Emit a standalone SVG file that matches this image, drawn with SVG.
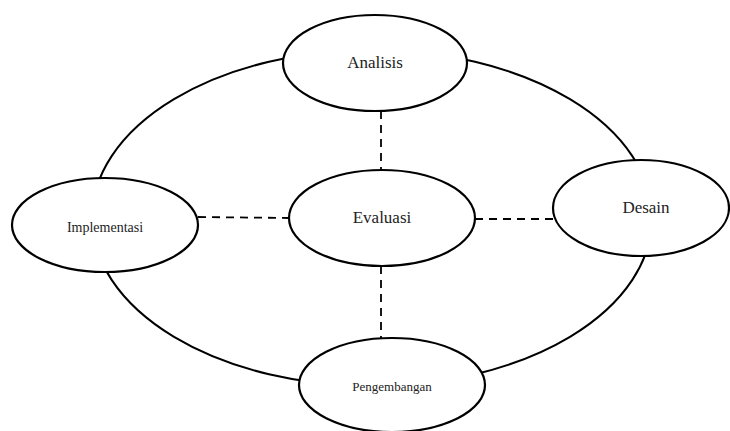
<svg xmlns="http://www.w3.org/2000/svg" width="730" height="431" viewBox="0 0 730 431">
<style>
.n{fill:#fff;stroke:#000;stroke-width:2.2}
.ring{fill:none;stroke:#000;stroke-width:2}
.d{stroke:#000;stroke-width:1.8;stroke-dasharray:8,6;fill:none}
.t{fill:#222;text-anchor:middle}
</style>
<g id="connectors">
<ellipse class="ring" cx="372" cy="218" rx="280" ry="168"/>
<line class="d" x1="381" y1="111" x2="381" y2="170"/>
<line class="d" x1="381" y1="266" x2="381" y2="339"/>
<line class="d" x1="198" y1="217" x2="289" y2="218"/>
<line class="d" x1="475" y1="219" x2="553" y2="219"/>
</g>
<g id="analisis"><ellipse class="n" cx="375" cy="63" rx="92" ry="48"/><text class="t" font-family="'Liberation Serif', 'Times New Roman', serif" x="375" y="68" font-size="17">Analisis</text></g>
<g id="implementasi"><ellipse class="n" cx="105" cy="225" rx="93" ry="47"/><text class="t" font-family="'Liberation Serif', 'Times New Roman', serif" x="105" y="232" font-size="14">Implementasi</text></g>
<g id="evaluasi"><ellipse class="n" cx="382" cy="218" rx="93" ry="48"/><text class="t" font-family="'Liberation Serif', 'Times New Roman', serif" x="382" y="223" font-size="17">Evaluasi</text></g>
<g id="desain"><ellipse class="n" cx="641" cy="208" rx="88" ry="48"/><text class="t" font-family="'Liberation Serif', 'Times New Roman', serif" x="646" y="213" font-size="17">Desain</text></g>
<g id="pengembangan"><ellipse class="n" cx="392" cy="385" rx="93" ry="47"/><text class="t" font-family="'Liberation Serif', 'Times New Roman', serif" x="392" y="391" font-size="13">Pengembangan</text></g>
</svg>
